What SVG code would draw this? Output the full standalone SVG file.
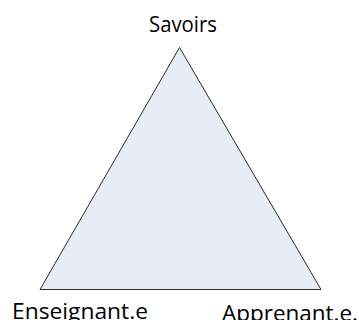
<svg xmlns="http://www.w3.org/2000/svg" width="359" height="320" viewBox="0 0 359 320">
<style>
.lbl{font-family:"Open Sans","Noto Sans",sans-serif;font-size:21px;fill:#000}
.tri{fill:#e7ecf5;stroke:#2b2b2b;stroke-width:1}
</style>
<rect width="359" height="320" fill="#fff"/>
<g id="triangle">
<polygon class="tri" points="179.5,47.5 40,289.5 321,289.5"/>
</g>
<g id="connectors"/>
<g id="savoirs"><text class="lbl" x="149" y="32" textLength="68" lengthAdjust="spacingAndGlyphs">Savoirs</text></g>
<g id="enseignant"><text class="lbl" x="12" y="319" textLength="136" lengthAdjust="spacingAndGlyphs">Enseignant.e</text></g>
<g id="apprenant"><text class="lbl" x="222" y="321" textLength="136" lengthAdjust="spacingAndGlyphs">Apprenant.e.</text></g>
</svg>
